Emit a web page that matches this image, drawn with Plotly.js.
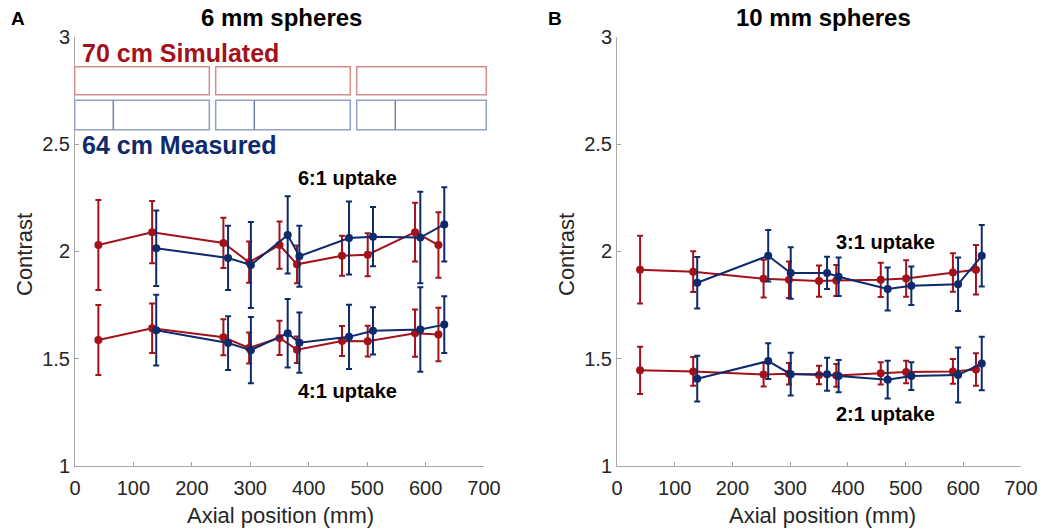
<!DOCTYPE html>
<html>
<head>
<meta charset="utf-8">
<script src="https://cdn.plot.ly/plotly-3.0.1.min.js"></script>
<style>
  body { margin: 0; background: #fff; }
  #graficPlotly { width: 1050px; height: 530px; }
</style>
</head>
<body>
<div id="graficPlotly"></div>
<script>
// posicions axials (mm) de les esferes
var posSimulat = [40, 132, 254, 298, 350, 380, 457, 501, 582, 622];
var posMesurat = [139, 262, 301, 364, 384, 469, 510, 591, 632];

// PANELL A: esferes de 6 mm
var sim6a1 = [2.03, 2.09, 2.04, 1.95, 2.03, 1.94, 1.98, 1.985, 2.09, 2.03];
var sim6a1_err = [0.21, 0.145, 0.117, 0.096, 0.11, 0.088, 0.093, 0.1, 0.137, 0.153];
var mes6a1 = [2.015, 1.97, 1.937, 2.077, 1.978, 2.063, 2.069, 2.065, 2.126];
var mes6a1_err = [0.176, 0.15, 0.2, 0.18, 0.142, 0.17, 0.138, 0.213, 0.173];
var sim4a1 = [1.587, 1.642, 1.60, 1.55, 1.597, 1.542, 1.583, 1.582, 1.619, 1.613];
var sim4a1_err = [0.163, 0.115, 0.084, 0.072, 0.08, 0.062, 0.07, 0.072, 0.11, 0.125];
var mes4a1 = [1.633, 1.573, 1.54, 1.619, 1.575, 1.602, 1.63, 1.636, 1.659];
var mes4a1_err = [0.165, 0.125, 0.154, 0.16, 0.14, 0.15, 0.11, 0.197, 0.132];

// PANELL B: esferes de 10 mm
var sim3a1 = [1.915, 1.906, 1.873, 1.868, 1.862, 1.865, 1.868, 1.874, 1.902, 1.915];
var sim3a1_err = [0.158, 0.095, 0.088, 0.085, 0.073, 0.072, 0.08, 0.085, 0.09, 0.115];
var mes3a1 = [1.854, 1.98, 1.9, 1.9, 1.882, 1.825, 1.84, 1.847, 1.98];
var mes3a1_err = [0.12, 0.12, 0.12, 0.075, 0.09, 0.1, 0.09, 0.125, 0.143];
var sim2a1 = [1.446, 1.441, 1.426, 1.43, 1.424, 1.422, 1.432, 1.438, 1.441, 1.45];
var sim2a1_err = [0.11, 0.067, 0.055, 0.05, 0.043, 0.053, 0.052, 0.052, 0.058, 0.076];
var mes2a1 = [1.407, 1.489, 1.428, 1.428, 1.419, 1.402, 1.419, 1.424, 1.478];
var mes2a1_err = [0.107, 0.083, 0.1, 0.077, 0.075, 0.088, 0.065, 0.128, 0.125];

// etiquetes
var titols = ['6 mm spheres', '10 mm spheres'];
var etiquetesPanell = ['A', 'B'];
var etiquetesCaptacio = ['6:1 uptake', '4:1 uptake', '3:1 uptake', '2:1 uptake'];
var llegenda = ['70 cm Simulated', '64 cm Measured'];
var ticksX = [0, 100, 200, 300, 400, 500, 600, 700];
var ticksY = [1, 1.5, 2, 2.5, 3];

var VERMELL = '#a3121b';
var BLAU = '#0d2a6c';
var FONT = 'Liberation Sans, Arial, sans-serif';

// una serie amb barres d'error
function serie(x, y, err, color, xa, ya) {
    return {
        x: x, y: y, xaxis: xa, yaxis: ya,
        type: 'scatter', mode: 'lines+markers', showlegend: false,
        line: {color: color, width: 2},
        marker: {color: color, size: 8},
        error_y: {type: 'data', array: err, visible: true, color: color, thickness: 2, width: 3}
    };
}

var dades = [
    serie(posSimulat, sim6a1, sim6a1_err, VERMELL, 'x', 'y'),
    serie(posSimulat, sim4a1, sim4a1_err, VERMELL, 'x', 'y'),
    serie(posMesurat, mes6a1, mes6a1_err, BLAU, 'x', 'y'),
    serie(posMesurat, mes4a1, mes4a1_err, BLAU, 'x', 'y'),
    serie(posSimulat, sim3a1, sim3a1_err, VERMELL, 'x2', 'y2'),
    serie(posSimulat, sim2a1, sim2a1_err, VERMELL, 'x2', 'y2'),
    serie(posMesurat, mes3a1, mes3a1_err, BLAU, 'x2', 'y2'),
    serie(posMesurat, mes2a1, mes2a1_err, BLAU, 'x2', 'y2')
];

function eixX(domini, ancla) {
    return {
        domain: domini, anchor: ancla, range: [0, 700],
        tickvals: ticksX, ticks: 'inside', ticklen: 4, tickcolor: '#a0a0a0',
        showline: true, linecolor: '#a8a8a8', linewidth: 1,
        showgrid: false, zeroline: false, ticklabelstandoff: 4,
        tickfont: {family: FONT, size: 20, color: '#262626'}
    };
}
function eixY(ancla) {
    return {
        domain: [0.1208, 0.9302], anchor: ancla, range: [1, 3],
        tickvals: ticksY, ticks: 'inside', ticklen: 4, tickcolor: '#a0a0a0',
        showline: true, linecolor: '#a8a8a8', linewidth: 1,
        showgrid: false, zeroline: false,
        tickfont: {family: FONT, size: 20, color: '#262626'}
    };
}

function px(x) { return x / 1050; }
function py(y) { return 1 - y / 530; }

var anotacions = [];
function text(t, x, y, mida, color, negreta, opcions) {
    var a = {
        text: negreta ? '<b>' + t + '</b>' : t,
        x: x, y: y, showarrow: false,
        xanchor: 'center', yanchor: 'middle',
        font: {family: FONT, size: mida, color: color}
    };
    for (var k in opcions) a[k] = opcions[k];
    anotacions.push(a);
}

// titols i lletres dels panells
text(titols[0], px(281), py(18), 24, '#000', true, {xref: 'paper', yref: 'paper'});
text(titols[1], px(823), py(18), 24, '#000', true, {xref: 'paper', yref: 'paper'});
text(etiquetesPanell[0], px(18), py(19), 19, '#000', true, {xref: 'paper', yref: 'paper'});
text(etiquetesPanell[1], px(555), py(19), 19, '#000', true, {xref: 'paper', yref: 'paper'});

// titols dels eixos
text('Axial position (mm)', px(280), py(515), 22, '#262626', false, {xref: 'paper', yref: 'paper'});
text('Axial position (mm)', px(822), py(515), 22, '#262626', false, {xref: 'paper', yref: 'paper'});
text('Contrast', px(24), py(255), 22, '#262626', false, {xref: 'paper', yref: 'paper', textangle: -90});
text('Contrast', px(566), py(255), 22, '#262626', false, {xref: 'paper', yref: 'paper', textangle: -90});

// etiquetes de captacio (en coordenades de dades)
text(etiquetesCaptacio[0], 467, 2.343, 20, '#000', true, {xref: 'x', yref: 'y'});
text(etiquetesCaptacio[1], 467, 1.349, 20, '#000', true, {xref: 'x', yref: 'y'});
text(etiquetesCaptacio[2], 466, 2.045, 20, '#000', true, {xref: 'x2', yref: 'y2'});
text(etiquetesCaptacio[3], 466, 1.241, 20, '#000', true, {xref: 'x2', yref: 'y2'});

// llegenda feta a ma
text(llegenda[0], px(80), py(53), 25, VERMELL, true, {xref: 'paper', yref: 'paper', xanchor: 'left'});
text(llegenda[1], px(80), py(145), 25, BLAU, true, {xref: 'paper', yref: 'paper', xanchor: 'left'});

var caixesX = [[74.7, 209.3], [215.7, 350.3], [356.7, 486.3]];
var divisors = [113.3, 254.3, 395.3];
var formes = [];
for (var c = 0; c < caixesX.length; ++c) {
    formes.push({type: 'rect', xref: 'paper', yref: 'paper',
        x0: px(caixesX[c][0]), x1: px(caixesX[c][1]), y0: py(94.7), y1: py(66.7),
        line: {color: '#d98c8c', width: 1.5}});
    formes.push({type: 'rect', xref: 'paper', yref: 'paper',
        x0: px(caixesX[c][0]), x1: px(caixesX[c][1]), y0: py(129.7), y1: py(100.3),
        line: {color: '#91a1c6', width: 1.5}});
    formes.push({type: 'line', xref: 'paper', yref: 'paper',
        x0: px(divisors[c]), x1: px(divisors[c]), y0: py(129.7), y1: py(100.3),
        line: {color: '#6f83b0', width: 1.5}});
}

var layout = {
    width: 1050, height: 530,
    margin: {l: 0, r: 0, t: 0, b: 0},
    paper_bgcolor: '#fff', plot_bgcolor: '#fff',
    showlegend: false,
    xaxis: eixX([px(75), px(484)], 'y'),
    yaxis: eixY('x'),
    xaxis2: eixX([px(617), px(1021)], 'y2'),
    yaxis2: eixY('x2'),
    annotations: anotacions,
    shapes: formes
};

Plotly.newPlot('graficPlotly', dades, layout, {displayModeBar: false, staticPlot: true});
</script>
</body>
</html>
